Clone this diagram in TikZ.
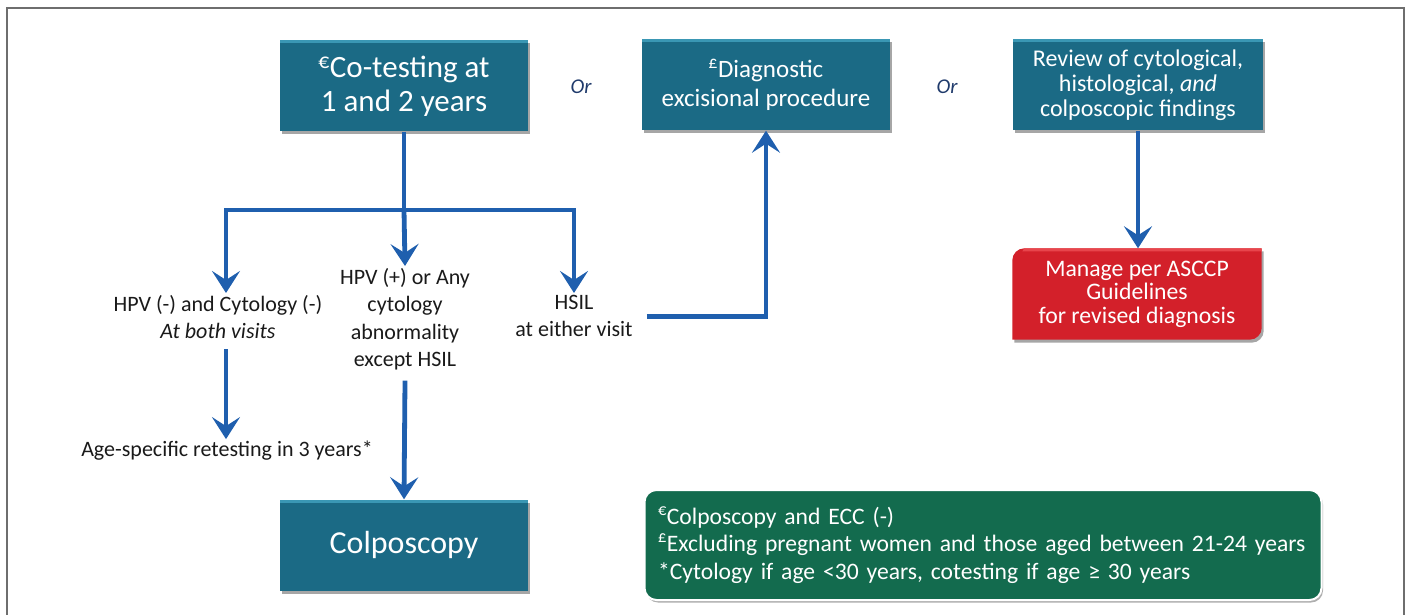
\documentclass[tikz,border=0pt]{standalone}
\usepackage{fontspec}
\setmainfont{Carlito}
\usetikzlibrary{arrows.meta,shadows}

\definecolor{tealbox}{HTML}{1B6A85}
\definecolor{teallight}{HTML}{3A97B4}
\definecolor{redbox}{HTML}{D3202A}
\definecolor{redlight}{HTML}{E8454C}
\definecolor{greenbox}{HTML}{136B4E}
\definecolor{flowblue}{HTML}{1F5FAE}
\definecolor{ornavy}{HTML}{1F3A6B}
\definecolor{labelink}{HTML}{1A1A1A}
\definecolor{framegray}{HTML}{6E6E6E}

\tikzset{
  boxshadow/.style={drop shadow={shadow xshift=2pt,shadow yshift=-3pt,opacity=0.35,fill=black}},
  tealstep/.style={rectangle, fill=tealbox, text=white, align=center,
    minimum width=248pt, minimum height=91pt, inner sep=0pt, boxshadow,
    path picture={\fill[teallight] (path picture bounding box.north west)
      rectangle ([yshift=-3pt]path picture bounding box.north east);}},
  flowlabel/.style={text=labelink, align=center, inner sep=2pt,
    font=\fontsize{22}{27.5}\selectfont},
  orlabel/.style={text=ornavy, font=\fontsize{21}{25}\selectfont\itshape},
  flow/.style={draw=flowblue, line width=4.8pt},
  flowarrow/.style={flow, -{Stealth[length=22pt,width=28pt,inset=9pt]}},
}

\begin{document}
\begin{tikzpicture}[x=1pt,y=-1pt]
\useasboundingbox (0,0) rectangle (1410,615);

% page frame
\draw[framegray, line width=1.6pt] (7,615) -- (7,8) -- (1404,8) -- (1404,615);

% top row of actions
\node[tealstep, font=\fontsize{31}{34}\selectfont] (cotest) at (404,86)
  {\textsuperscript{€}Co-testing at\\ 1 and 2 years};
\node[tealstep, font=\fontsize{25}{29}\selectfont] (diag) at (766,85)
  {\textsuperscript{£}Diagnostic\\ excisional procedure};
\node[tealstep, minimum width=250pt, font=\fontsize{24}{25}\selectfont] (review) at (1138,85)
  {Review of cytological,\\ histological, \textit{and}\\ colposcopic findings};

\node[orlabel] (or1) at (581,87) {Or};
\node[orlabel] (or2) at (947,87) {Or};

% revised diagnosis box: rounded top-left and bottom-right corners
\node[minimum width=249pt, minimum height=91pt, inner sep=0pt] (manage) at (1137,294) {};
\fill[redbox, boxshadow] ([xshift=12pt]manage.north west) -- (manage.north east)
  -- ([yshift=12pt]manage.south east) arc[start angle=0,end angle=-90,radius=12pt]
  -- (manage.south west) -- ([yshift=-12pt]manage.north west)
  arc[start angle=180,end angle=90,radius=12pt] -- cycle;
\fill[redlight] ([xshift=12pt]manage.north west) -- (manage.north east)
  -- ([yshift=-3pt]manage.north east) -- ([xshift=10pt,yshift=-3pt]manage.north west) -- cycle;
\node[text=white, align=center, font=\fontsize{23.7}{23.5}\selectfont] (managetext) at (manage.center)
  {Manage per ASCCP\\ Guidelines\\ for revised diagnosis};

% outcome labels
\node[flowlabel, anchor=north] (hpvneg) at (218,293)
  {HPV (-) and Cytology (-)\\ \textit{At both visits}};
\node[flowlabel, anchor=north] (hpvpos) at (405,266)
  {HPV (+) or Any\\ cytology\\ abnormality\\ except HSIL};
\node[flowlabel, anchor=north] (hsil) at (574,293)
  {HSIL\\ at either visit};
\node[flowlabel] (retest) at (227,451) {Age-specific retesting in 3 years*};

\node[tealstep, font=\fontsize{32}{36}\selectfont] (colpo) at (404,545) {Colposcopy};

% footnotes
\node[rounded corners=12pt, fill=greenbox, draw=white, line width=2pt,
  drop shadow={shadow xshift=1.5pt,shadow yshift=-2.5pt,opacity=0.45,fill=black!70},
  minimum width=677pt, minimum height=110pt, text width=650pt, align=left,
  text=white, font=\fontsize{23.6}{27.5}\selectfont] (notes) at (983,545)
  {\textsuperscript{€}Colposcopy and ECC (-)\\
   \textsuperscript{£}Excluding pregnant women and those aged between 21-24 years\\
   {*}Cytology if age <30 years, cotesting if age ≥ 30 years};

% connectors
\coordinate (split) at (cotest.south |- 0,210);
\coordinate (barL) at (226,210);
\coordinate (barR) at (574,210);
\draw[flow] (cotest.south) -- (split);
\draw[flow, line cap=rect] (barL) -- (barR);
\draw[flowarrow] (barL) -- (barL |- hpvneg.north);
\draw[flowarrow] (split) -- (hpvpos.north);
\draw[flowarrow] (barR) -- (hsil.north);
\draw[flowarrow] ([yshift=-8pt]hpvneg.south -| barL) -- (retest.north -| barL);
\draw[flowarrow] ([yshift=-8pt]hpvpos.south) -- (colpo.north);
\draw[flowarrow] ([xshift=12pt]hsil.east) -| (diag.south);
\draw[flowarrow] (review.south) -- (review.south |- manage.north);
\end{tikzpicture}
\end{document}
